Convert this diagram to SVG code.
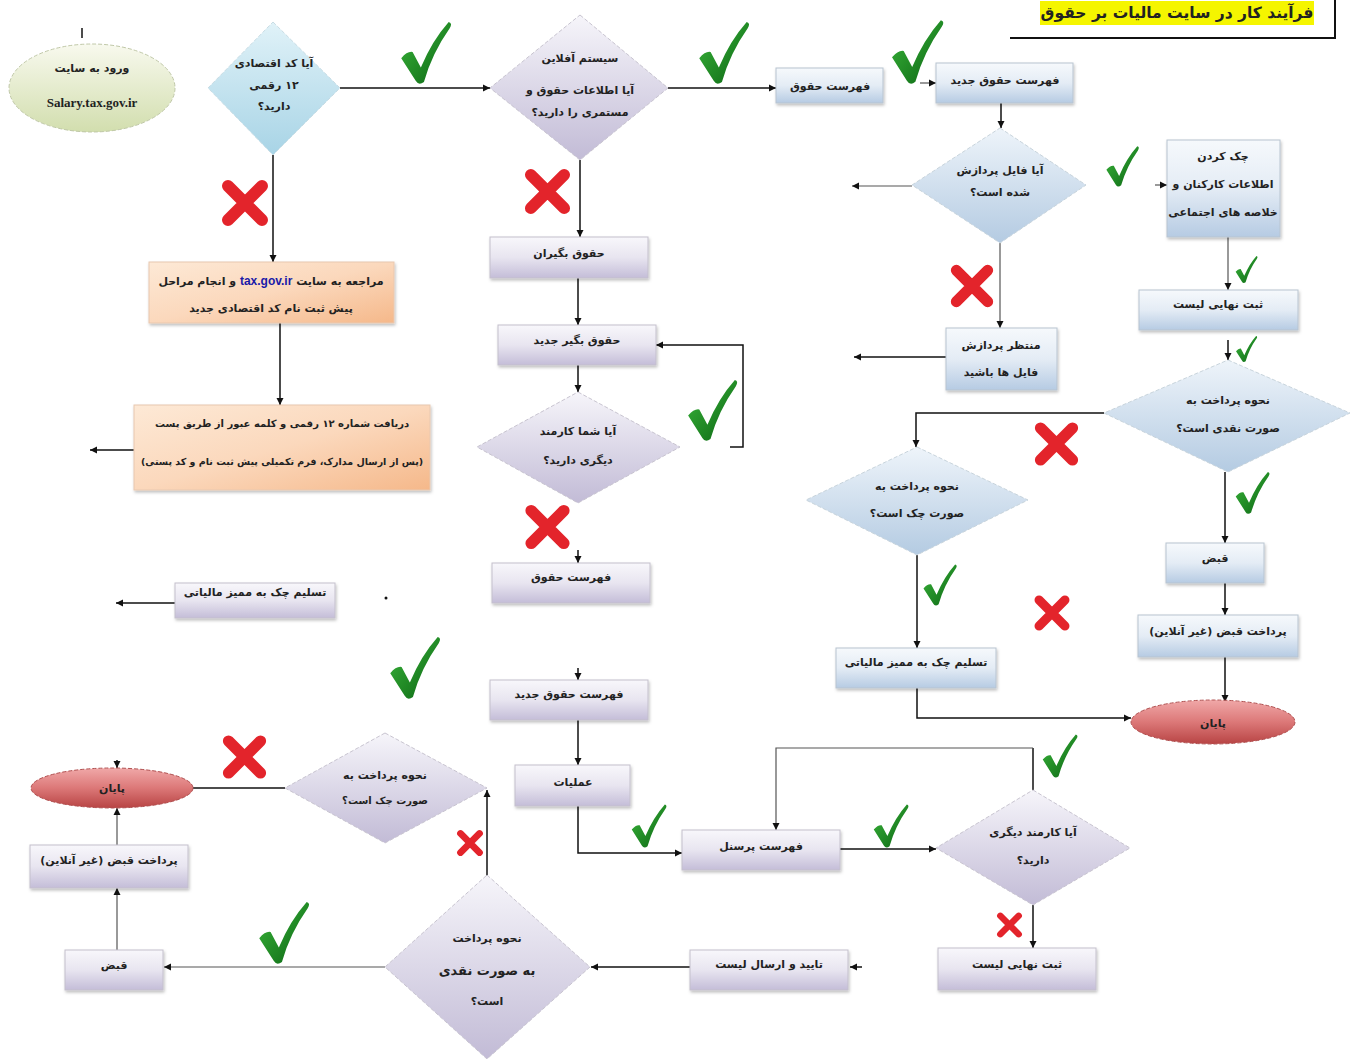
<svg xmlns="http://www.w3.org/2000/svg" xmlns:xlink="http://www.w3.org/1999/xlink" width="1362" height="1059" viewBox="0 0 1362 1059">
<style>
text{font-family:"DejaVu Sans","Noto Sans",sans-serif;font-size:11px;font-weight:bold;fill:#222;text-anchor:middle;direction:rtl}
.c{fill:none;stroke:#111;stroke-width:1.5}
.cg{fill:none;stroke:#555;stroke-width:1.2}
.bb{fill:url(#gBlue);stroke:#b8c4d0;stroke-width:1;filter:url(#sh)}
.bl{fill:url(#gLav);stroke:#c4c0cc;stroke-width:1;filter:url(#sh)}
.bo{fill:url(#gOr);stroke:#e8c8b0;stroke-width:1;filter:url(#sh)}
.db{fill:url(#gDBlue);stroke:#c8d4dc;stroke-width:1;stroke-dasharray:4 2}
.dc{fill:url(#gCyan);stroke:#c8dce4;stroke-width:1;stroke-dasharray:4 2}
.dl{fill:url(#gDLav);stroke:#c8c4d0;stroke-width:1;stroke-dasharray:4 2}
.er{fill:url(#gRed);stroke:#b05050;stroke-width:1;stroke-dasharray:4 2}
.eg{fill:url(#gGr);stroke:#c0c8a8;stroke-width:1;stroke-dasharray:4 2}
</style>
<defs>
<linearGradient id="gBlue" x1="0" y1="0" x2="0" y2="1"><stop offset="0" stop-color="#f6f9fc"/><stop offset="0.5" stop-color="#e4ecf5"/><stop offset="1" stop-color="#b6cbe3"/></linearGradient>
<linearGradient id="gLav" x1="0" y1="0" x2="0" y2="1"><stop offset="0" stop-color="#f8f7fb"/><stop offset="0.5" stop-color="#e8e5f0"/><stop offset="1" stop-color="#c4bdd8"/></linearGradient>
<linearGradient id="gOr" x1="0" y1="0" x2="1" y2="1"><stop offset="0" stop-color="#fde9d6"/><stop offset="0.5" stop-color="#fbd8bc"/><stop offset="1" stop-color="#f5b88a"/></linearGradient>
<linearGradient id="gDBlue" x1="0" y1="0" x2="0" y2="1"><stop offset="0" stop-color="#eef4fa"/><stop offset="1" stop-color="#b4cbe2"/></linearGradient>
<linearGradient id="gCyan" x1="0" y1="0" x2="0" y2="1"><stop offset="0" stop-color="#e0f2f8"/><stop offset="1" stop-color="#a8d4e6"/></linearGradient>
<linearGradient id="gDLav" x1="0" y1="0" x2="0" y2="1"><stop offset="0" stop-color="#f6f5fa"/><stop offset="1" stop-color="#c2bbd6"/></linearGradient>
<linearGradient id="gRed" x1="0" y1="0" x2="0" y2="1"><stop offset="0" stop-color="#f0a8a8"/><stop offset="0.5" stop-color="#dc7878"/><stop offset="1" stop-color="#b84444"/></linearGradient>
<linearGradient id="gGr" x1="0" y1="0" x2="0" y2="1"><stop offset="0" stop-color="#f8f9ee"/><stop offset="1" stop-color="#d2deae"/></linearGradient>
<linearGradient id="gChk" x1="0" y1="0" x2="1" y2="1"><stop offset="0" stop-color="#3cb83c"/><stop offset="1" stop-color="#0a6212"/></linearGradient>
<filter id="sh" x="-10%" y="-10%" width="125%" height="140%"><feDropShadow dx="1" dy="2" stdDeviation="1.5" flood-color="#000" flood-opacity="0.25"/></filter>
<marker id="a" markerUnits="userSpaceOnUse" markerWidth="8" markerHeight="8" refX="7" refY="4" orient="auto"><path d="M0,0.5 L7,4 L0,7.5 z" fill="#111"/></marker>
<symbol id="chk" viewBox="0 0 50 64"><path d="M1,37 Q7,30 12,31 L20,46 Q31,20 47,2 Q51,3 48,8 Q31,32 23,60 Q18,64 15,59 Z" fill="url(#gChk)"/></symbol>
<symbol id="x" viewBox="0 0 50 50"><path d="M8,8 L42,42 M42,8 L8,42" stroke="#e3242b" stroke-width="12" stroke-linecap="round"/></symbol>
</defs>
<rect width="1362" height="1059" fill="#fff"/>

<g id="title">
<path d="M1010,38 L1335,38 L1335,0" fill="none" stroke="#111" stroke-width="2"/>
<rect x="1040" y="1" width="274" height="24" fill="#f5f500"/>
<text x="1177" y="18" style="font-size:15.5px">فرآیند کار در سایت مالیات بر حقوق</text>
</g>

<g id="connectors">
<path class="c" d="M82,28 L82,38"/>
<path class="c" d="M340,88 L490,88" marker-end="url(#a)"/>
<path class="c" d="M273,155 L273,262" marker-end="url(#a)"/>
<path class="c" d="M668,88 L776,88" marker-end="url(#a)"/>
<path class="c" d="M580,160 L580,237" marker-end="url(#a)"/>
<path class="cg" d="M920,83 L936,83" marker-end="url(#a)"/>
<path class="c" d="M1001,103 L1001,128" marker-end="url(#a)"/>
<path class="cg" d="M912,186 L852,186" marker-end="url(#a)"/>
<path class="cg" d="M1155,185 L1167,185" marker-end="url(#a)"/>
<path class="cg" d="M1000,243 L1000,328" marker-end="url(#a)"/>
<path class="cg" d="M1228,237 L1228,290" marker-end="url(#a)"/>
<path class="c" d="M1228,340 L1228,360" marker-end="url(#a)"/>
<path class="c" d="M946,357 L854,357" marker-end="url(#a)"/>
<path class="c" d="M1104,413 L916,413 L916,447" marker-end="url(#a)"/>
<path class="c" d="M1225,472 L1225,543" marker-end="url(#a)"/>
<path class="c" d="M917,555 L917,648" marker-end="url(#a)"/>
<path class="c" d="M1225,583 L1225,615" marker-end="url(#a)"/>
<path class="c" d="M1225,657 L1225,702" marker-end="url(#a)"/>
<path class="c" d="M917,688 L917,718 L1131,718" marker-end="url(#a)"/>
<path class="c" d="M280,323 L280,405" marker-end="url(#a)"/>
<path class="c" d="M134,450 L90,450" marker-end="url(#a)"/>
<path class="c" d="M578,278 L578,325" marker-end="url(#a)"/>
<path class="c" d="M578,365 L578,392" marker-end="url(#a)"/>
<path class="c" d="M730,447 L743,447 L743,345 L656,345" marker-end="url(#a)"/>
<path class="c" d="M578,550 L578,563" marker-end="url(#a)"/>
<path class="c" d="M175,603 L116,603" marker-end="url(#a)"/>
<path class="c" d="M578,668 L578,680" marker-end="url(#a)"/>
<path class="c" d="M578,720 L578,765" marker-end="url(#a)"/>
<path class="c" d="M578,806 L578,853 L682,853" marker-end="url(#a)"/>
<path class="c" d="M840,849 L936,849" marker-end="url(#a)"/>
<path class="c" d="M1033,790 L1033,748"/>
<path class="cg" d="M1033,748 L776,748 L776,830" marker-end="url(#a)"/>
<path class="c" d="M1033,905 L1033,948" marker-end="url(#a)"/>
<path class="c" d="M862,967 L850,967" marker-end="url(#a)"/>
<path class="c" d="M690,967 L591,967" marker-end="url(#a)"/>
<path class="cg" d="M385,967 L164,967" marker-end="url(#a)"/>
<path class="c" d="M487,880 L487,790" marker-end="url(#a)"/>
<path class="cg" d="M117,950 L117,888" marker-end="url(#a)"/>
<path class="cg" d="M117,845 L117,808" marker-end="url(#a)"/>
<path class="c" d="M285,788 L193,788"/>
<path class="c" d="M117,760 L117,768" marker-end="url(#a)"/>
</g>

<g id="n-start"><ellipse class="eg" cx="92" cy="88" rx="83" ry="44"/><text x="92" y="72">ورود به سایت</text><text x="92" y="107" style="font-family:'Liberation Serif',serif;font-size:13px;direction:ltr">Salary.tax.gov.ir</text></g>
<g id="n-d1"><polygon class="dc" points="273,22 340,88 273,155 208,88"/><text x="274" y="67">آیا کد اقتصادی</text><text x="274" y="89">۱۲ رقمی</text><text x="274" y="110">دارید؟</text></g>
<g id="n-d2"><polygon class="dl" points="580,15 668,88 580,160 490,88"/><text x="580" y="62">سیستم آفلاین</text><text x="580" y="94">آیا اطلاعات حقوق و</text><text x="580" y="116">مستمری را دارید؟</text></g>
<g id="n-list"><rect class="bb" x="776" y="68" width="107" height="35"/><text x="830" y="90">فهرست حقوق</text></g>
<g id="n-newlist"><rect class="bb" x="936" y="63" width="137" height="40"/><text x="1005" y="84">فهرست حقوق جدید</text></g>
<g id="n-d3"><polygon class="db" points="1000,128 1086,185 1000,243 912,185"/><text x="1000" y="174">آیا فایل پردازش</text><text x="1000" y="196">شده است؟</text></g>
<g id="n-check"><rect class="bb" x="1167" y="140" width="113" height="97"/><text x="1223" y="160">چک کردن</text><text x="1223" y="188">اطلاعات کارکنان و</text><text x="1223" y="216">خلاصه های اجتماعی</text></g>
<g id="n-final1"><rect class="bb" x="1139" y="290" width="159" height="40"/><text x="1218" y="308">ثبت نهایی لیست</text></g>
<g id="n-wait"><rect class="bb" x="946" y="328" width="111" height="62"/><text x="1001" y="349">منتظر پردازش</text><text x="1001" y="376">فایل ها باشید</text></g>
<g id="n-d4"><polygon class="db" points="1228,360 1350,413 1228,472 1104,413"/><text x="1228" y="404">نحوه پرداخت به</text><text x="1228" y="432">صورت نقدی است؟</text></g>
<g id="n-d5"><polygon class="db" points="917,447 1028,500 917,555 806,500"/><text x="917" y="490">نحوه پرداخت به</text><text x="917" y="517">صورت چک است؟</text></g>
<g id="n-bill1"><rect class="bb" x="1166" y="543" width="98" height="40"/><text x="1215" y="562">قبض</text></g>
<g id="n-pay1"><rect class="bb" x="1138" y="615" width="160" height="42"/><text x="1218" y="635">پرداخت قبض (غیر آنلاین)</text></g>
<g id="n-cheque1"><rect class="bb" x="836" y="648" width="160" height="40"/><text x="916" y="666">تسلیم چک به ممیز مالیاتی</text></g>
<g id="n-end1"><ellipse class="er" cx="1213" cy="722" rx="82" ry="22"/><text x="1213" y="727">پایان</text></g>
<g id="n-taxgov"><rect class="bo" x="149" y="262" width="245" height="61"/><text x="271" y="285">مراجعه به سایت <tspan fill="#1a1aa8" style="font-family:'Liberation Sans',sans-serif;font-size:12px">tax.gov.ir</tspan> و انجام مراحل</text><text x="271" y="312">پیش ثبت نام کد اقتصادی جدید</text></g>
<g id="n-receive"><rect class="bo" x="134" y="405" width="296" height="85"/><text x="282" y="427" style="font-size:10px">دریافت شماره ۱۲ رقمی و کلمه عبور از طریق پست</text><text x="282" y="465" style="font-size:9.5px">(پس از ارسال مدارک، فرم تکمیلی پیش ثبت نام و کد پستی)</text></g>
<g id="n-employees"><rect class="bl" x="490" y="237" width="158" height="41"/><text x="569" y="257">حقوق بگیران</text></g>
<g id="n-newemp"><rect class="bl" x="498" y="325" width="158" height="40"/><text x="577" y="344">حقوق بگیر جدید</text></g>
<g id="n-d6"><polygon class="dl" points="578,392 680,447 578,503 477,447"/><text x="578" y="435">آیا شما کارمند</text><text x="578" y="464">دیگری دارید؟</text></g>
<g id="n-list2"><rect class="bl" x="492" y="563" width="158" height="40"/><text x="571" y="581">فهرست حقوق</text></g>
<g id="n-cheque2"><rect class="bl" x="175" y="583" width="160" height="35"/><text x="255" y="596">تسلیم چک به ممیز مالیاتی</text></g>
<g id="n-newlist2"><rect class="bl" x="490" y="680" width="158" height="40"/><text x="569" y="698">فهرست حقوق جدید</text></g>
<g id="n-ops"><rect class="bl" x="515" y="765" width="115" height="41"/><text x="573" y="786">عملیات</text></g>
<g id="n-staff"><rect class="bl" x="682" y="830" width="158" height="40"/><text x="761" y="850">فهرست پرسنل</text></g>
<g id="n-d7"><polygon class="dl" points="1033,790 1130,848 1033,905 936,848"/><text x="1033" y="836">آیا کارمند دیگری</text><text x="1033" y="864">دارید؟</text></g>
<g id="n-final2"><rect class="bl" x="938" y="948" width="158" height="42"/><text x="1017" y="968">ثبت نهایی لیست</text></g>
<g id="n-send"><rect class="bl" x="690" y="950" width="158" height="40"/><text x="769" y="968">تایید و ارسال لیست</text></g>
<g id="n-d8"><polygon class="dl" points="487,875 590,967 487,1059 385,967"/><text x="487" y="942">نحوه پرداخت</text><text x="487" y="975" style="font-size:13px">به صورت نقدی</text><text x="487" y="1005">است؟</text></g>
<g id="n-bill2"><rect class="bl" x="65" y="950" width="98" height="40"/><text x="114" y="969">قبض</text></g>
<g id="n-pay2"><rect class="bl" x="30" y="845" width="158" height="43"/><text x="109" y="864">پرداخت قبض (غیر آنلاین)</text></g>
<g id="n-end2"><ellipse class="er" cx="112" cy="788" rx="81" ry="20"/><text x="112" y="792">پایان</text></g>
<g id="n-d9"><polygon class="dl" points="385,733 487,788 385,843 285,788"/><text x="385" y="779">نحوه پرداخت به</text><text x="385" y="804" style="font-size:10px">صورت چک است؟</text></g>

<g id="marks">
<use href="#chk" x="400" y="20" width="52" height="66"/>
<use href="#chk" x="698" y="20" width="52" height="66"/>
<use href="#chk" x="890" y="18" width="55" height="68"/>
<use href="#chk" x="685" y="378" width="55" height="65"/>
<use href="#chk" x="388" y="635" width="54" height="66"/>
<use href="#chk" x="258" y="900" width="52" height="66"/>
<use href="#chk" x="1105" y="145" width="35" height="43"/>
<use href="#chk" x="922" y="563" width="36" height="44"/>
<use href="#chk" x="1235" y="470" width="35" height="46"/>
<use href="#chk" x="630" y="803" width="38" height="46"/>
<use href="#chk" x="872" y="803" width="38" height="46"/>
<use href="#chk" x="1040" y="733" width="40" height="46"/>
<use href="#chk" x="1235" y="255" width="23" height="29"/>
<use href="#chk" x="1235" y="335" width="23" height="28"/>
<use href="#x" x="220" y="178" width="50" height="50"/>
<use href="#x" x="523" y="167" width="49" height="49"/>
<use href="#x" x="949" y="262" width="46" height="48"/>
<use href="#x" x="523" y="503" width="49" height="48"/>
<use href="#x" x="1033" y="420" width="47" height="48"/>
<use href="#x" x="1033" y="594" width="38" height="38"/>
<use href="#x" x="221" y="733" width="47" height="48"/>
<use href="#x" x="456" y="828" width="28" height="30"/>
<use href="#x" x="996" y="910" width="27" height="30"/>
<circle cx="386" cy="598" r="1.5" fill="#111"/>
</g>
</svg>
